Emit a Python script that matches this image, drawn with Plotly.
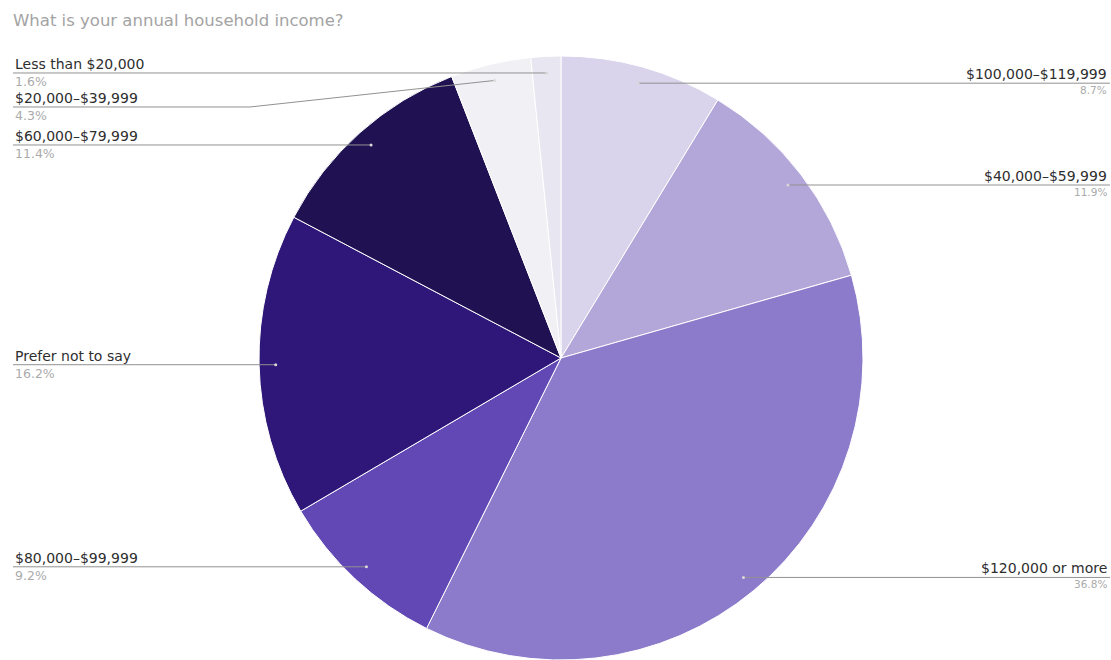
import math
import plotly.graph_objects as go

# Survey answers, in drawing order (clockwise from 12 o'clock)
categories = [
    "$100,000–$119,999",
    "$40,000–$59,999",
    "$120,000 or more",
    "$80,000–$99,999",
    "Prefer not to say",
    "$60,000–$79,999",
    "$20,000–$39,999",
    "Less than $20,000",
]
shares = [8.7, 11.9, 36.8, 9.2, 16.2, 11.4, 4.3, 1.6]
slice_colors = [
    "#d9d3ec", "#b3a6d9", "#8c7bca", "#6248b4",
    "#2e1778", "#1f1152", "#f1f0f5", "#e8e6f0",
]
title_text = "What is your annual household income?"

W, H = 1111, 660
cx, cy, R = 561, 358, 302          # pie centre / radius in pixels
anchor_frac = 0.945                # leader-line anchor radius as a fraction of R
left_x, right_x = 13, 1110         # outer ends of leader lines
label_gap = 34                     # min vertical spacing between stacked labels
elbow_x = 250                      # where a pushed left leader line bends

def px(x):
    return x / W

def py(y):
    return 1 - y / H

fig = go.Figure(go.Pie(
    labels=categories,
    values=shares,
    sort=False,
    direction="clockwise",
    rotation=0,
    hole=0,
    textinfo="none",
    hoverinfo="label+percent",
    marker=dict(colors=slice_colors, line=dict(color="#ffffff", width=1)),
    domain=dict(x=[px(cx - R), px(cx + R)], y=[py(cy + R), py(cy - R)]),
    showlegend=False,
))

# Leader-line anchors at each slice's mid-angle
total = sum(shares)
anchors = []
acc = 0.0
for name, v in zip(categories, shares):
    mid = (acc + v / 2) / total * 2 * math.pi
    acc += v
    ax = cx + anchor_frac * R * math.sin(mid)
    ay = cy - anchor_frac * R * math.cos(mid)
    anchors.append((name, v, ax, ay, "right" if math.sin(mid) > 0 else "left"))

shapes = []
annotations = [dict(
    x=px(11), y=py(9), xref="paper", yref="paper",
    xanchor="left", yanchor="top", showarrow=False,
    text=title_text, font=dict(family="DejaVu Sans", size=16.5, color="#a3a3a3"),
)]

line_style = dict(color="#919191", width=1)

for side in ("left", "right"):
    items = sorted([a for a in anchors if a[4] == side], key=lambda a: a[3])
    prev = -1e9
    for name, v, ax, ay, _ in items:
        ly = max(ay, prev + label_gap)
        prev = ly
        if side == "left":
            if abs(ly - ay) > 0.5:
                shapes.append(dict(type="line", xref="paper", yref="paper",
                                   x0=px(left_x), y0=py(ly), x1=px(elbow_x), y1=py(ly), line=line_style))
                shapes.append(dict(type="line", xref="paper", yref="paper",
                                   x0=px(elbow_x), y0=py(ly), x1=px(ax), y1=py(ay), line=line_style))
            else:
                shapes.append(dict(type="line", xref="paper", yref="paper",
                                   x0=px(left_x), y0=py(ly), x1=px(ax), y1=py(ly), line=line_style))
            tx, anchor = left_x, "left"
            pct_size = 12.5
        else:
            shapes.append(dict(type="line", xref="paper", yref="paper",
                               x0=px(ax), y0=py(ly), x1=px(right_x), y1=py(ly), line=line_style))
            tx, anchor = right_x - 1, "right"
            pct_size = 10.5
        shapes.append(dict(type="circle", xref="paper", yref="paper",
                           x0=px(ax - 1.5), y0=py(ay + 1.5), x1=px(ax + 1.5), y1=py(ay - 1.5),
                           fillcolor="#d8d8d8", line=dict(width=0)))
        annotations.append(dict(
            x=px(tx), y=py(ly), xref="paper", yref="paper",
            xanchor=anchor, yanchor="bottom", yshift=-1, showarrow=False,
            text=name, font=dict(family="DejaVu Sans", size=14, color="#2e2e2e"),
        ))
        annotations.append(dict(
            x=px(tx), y=py(ly), xref="paper", yref="paper",
            xanchor=anchor, yanchor="top", yshift=1, showarrow=False,
            text=f"{v:.1f}%", font=dict(family="DejaVu Sans", size=pct_size, color="#ababab"),
        ))

fig.update_layout(
    width=W, height=H,
    margin=dict(l=0, r=0, t=0, b=0),
    paper_bgcolor="#ffffff",
    plot_bgcolor="#ffffff",
    shapes=shapes,
    annotations=annotations,
)

fig.write_html("out.html")
